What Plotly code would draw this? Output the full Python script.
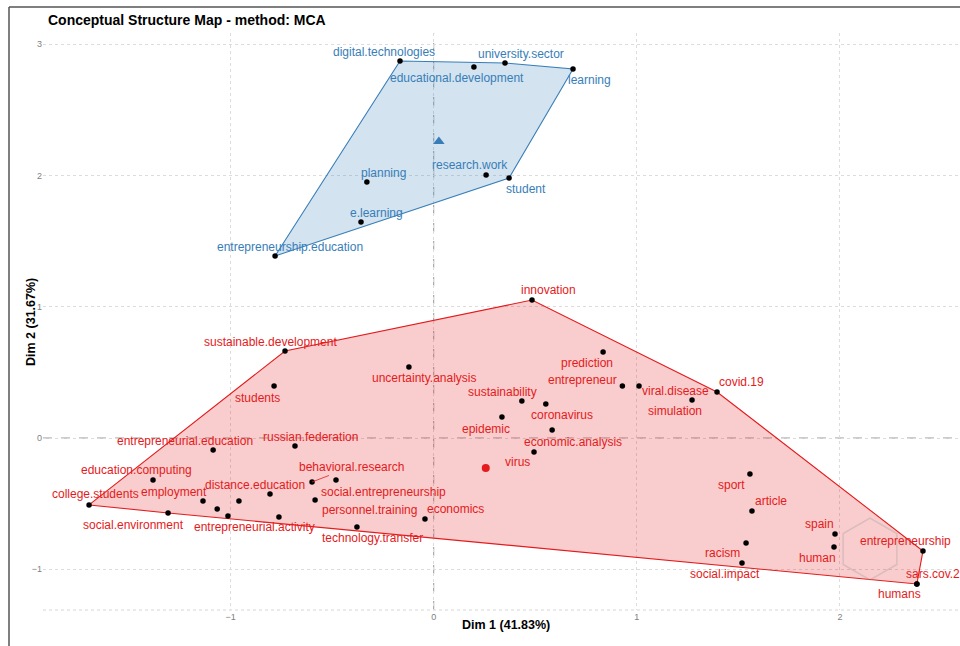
import math
import plotly.graph_objects as go

# ---- MCA word coordinates (Dim 1, Dim 2) by cluster ----
blue_words = [
    "digital.technologies", "educational.development", "university.sector",
    "learning", "research.work", "student", "planning", "e.learning",
    "entrepreneurship.education",
]
blue_dim1 = [-0.166, 0.198, 0.351, 0.686, 0.258, 0.371, -0.329, -0.358, -0.781]
blue_dim2 = [2.872, 2.827, 2.857, 2.811, 2.004, 1.981, 1.950, 1.646, 1.387]

red_words = [
    "sustainable.development", "students", "entrepreneurial.education",
    "russian.federation", "education.computing", "college.students",
    "employment", "social.environment", "distance.education",
    "entrepreneurial.activity", "behavioral.research", "social.entrepreneurship",
    "personnel.training", "economics", "technology.transfer", "innovation",
    "prediction", "uncertainty.analysis", "entrepreneur", "viral.disease",
    "covid.19", "simulation", "sustainability", "coronavirus", "epidemic",
    "economic.analysis", "virus", "sport", "article", "racism", "social.impact",
    "spain", "human", "entrepreneurship", "sars.cov.2", "humans",
]
red_dim1 = [
    -0.732, -0.786, -1.086, -0.683, -1.382, -1.697, -1.136, -1.308, -0.806,
    -1.013, -0.599, -0.481, -0.584, -0.043, -0.378, 0.484, 0.834, -0.122,
    0.929, 1.011, 1.395, 1.272, 0.434, 0.552, 0.336, 0.583, 0.494, 1.557,
    1.567, 1.538, 1.518, 1.976, 1.971, 2.409, 2.379, 2.379,
]
red_dim2 = [
    0.663, 0.396, -0.091, -0.061, -0.320, -0.510, -0.480, -0.571, -0.427,
    -0.594, -0.335, -0.320, -0.472, -0.617, -0.678, 1.051, 0.655, 0.541,
    0.396, 0.396, 0.350, 0.290, 0.282, 0.259, 0.160, 0.061, -0.107, -0.274,
    -0.556, -0.800, -0.952, -0.731, -0.830, -0.861, -1.112, -1.112,
]
# red-cluster words whose labels were dropped by the label repel step
red_hidden_dim1 = [-1.066, -0.959, -0.762]
red_hidden_dim2 = [-0.541, -0.480, -0.602]

x_ticks = [-1, 0, 1, 2]
y_ticks = [-1, 0, 1, 2, 3]

title_text = "Conceptual Structure Map - method: MCA"
x_title = "Dim 1 (41.83%)"
y_title = "Dim 2 (31.67%)"

RED = "#E41A1C"
BLUE = "#377EB8"
FONT = "Liberation Sans, Arial, sans-serif"
LABEL_SIZE = 12

# label placement relative to its point, in pixels (dx right, dy up)
label_offset = {
    "digital.technologies": (-16, 9), "educational.development": (-17, -11),
    "university.sector": (16, 9), "learning": (16, -11),
    "research.work": (-16, 10), "student": (17, -11), "planning": (17, 9),
    "e.learning": (16, 9), "entrepreneurship.education": (15, 9),
    "sustainable.development": (-15, 9), "students": (-17, -12),
    "entrepreneurial.education": (-28, 9), "russian.federation": (16, 9),
    "education.computing": (-17, 10), "college.students": (6, 11),
    "employment": (-29, 9), "social.environment": (-35, -12),
    "distance.education": (-15, 9), "entrepreneurial.activity": (27, -11),
    "behavioral.research": (39, 15), "social.entrepreneurship": (47, -12),
    "personnel.training": (54, -10), "economics": (31, 10),
    "technology.transfer": (16, -11), "innovation": (16, 10),
    "prediction": (-16, -11), "uncertainty.analysis": (16, -11),
    "entrepreneur": (-40, 6), "viral.disease": (36, -5), "covid.19": (24, 10),
    "simulation": (-17, -11), "sustainability": (-19, 9),
    "coronavirus": (16, -11), "epidemic": (-16, -12),
    "economic.analysis": (21, -12), "virus": (-17, -10), "sport": (-18, -11),
    "article": (19, 10), "racism": (-24, -10), "social.impact": (-17, -11),
    "spain": (-16, 10), "human": (-17, -11), "entrepreneurship": (-17, 10),
    "sars.cov.2": (16, 10), "humans": (-17, -10),
}
# labels pushed far enough to get a connecting segment
segment_labels = {"behavioral.research"}


def convex_hull(xs, ys):
    pts = sorted(set(zip(xs, ys)))
    if len(pts) < 3:
        return pts

    def cross(o, a, b):
        return (a[0] - o[0]) * (b[1] - o[1]) - (a[1] - o[1]) * (b[0] - o[0])

    lower, upper = [], []
    for p in pts:
        while len(lower) >= 2 and cross(lower[-2], lower[-1], p) <= 0:
            lower.pop()
        lower.append(p)
    for p in reversed(pts):
        while len(upper) >= 2 and cross(upper[-2], upper[-1], p) <= 0:
            upper.pop()
        upper.append(p)
    return lower[:-1] + upper[:-1]


def hull_trace(xs, ys, color, fill):
    hull = convex_hull(xs, ys)
    hx = [p[0] for p in hull] + [hull[0][0]]
    hy = [p[1] for p in hull] + [hull[0][1]]
    return go.Scatter(x=hx, y=hy, mode="lines", fill="toself",
                      fillcolor=fill, line=dict(color=color, width=1.1),
                      hoverinfo="skip", showlegend=False)


red_all_x = red_dim1 + red_hidden_dim1
red_all_y = red_dim2 + red_hidden_dim2

fig = go.Figure()
fig.add_trace(hull_trace(red_all_x, red_all_y, RED, "rgba(228,26,28,0.22)"))
fig.add_trace(hull_trace(blue_dim1, blue_dim2, BLUE, "rgba(55,126,184,0.22)"))

# word points
fig.add_trace(go.Scatter(x=red_all_x, y=red_all_y, mode="markers",
                         marker=dict(color="black", size=5.5),
                         text=red_words + [""] * len(red_hidden_dim1),
                         showlegend=False))
fig.add_trace(go.Scatter(x=blue_dim1, y=blue_dim2, mode="markers",
                         marker=dict(color="black", size=5.5),
                         text=blue_words, showlegend=False))

# cluster centroids
red_cx = sum(red_all_x) / len(red_all_x)
red_cy = sum(red_all_y) / len(red_all_y)
blue_cx = sum(blue_dim1) / len(blue_dim1)
blue_cy = sum(blue_dim2) / len(blue_dim2)
fig.add_trace(go.Scatter(x=[red_cx], y=[red_cy], mode="markers",
                         marker=dict(color=RED, size=8, symbol="circle"),
                         showlegend=False))
fig.add_trace(go.Scatter(x=[blue_cx], y=[blue_cy], mode="markers",
                         marker=dict(color=BLUE, size=10, symbol="triangle-up"),
                         showlegend=False))

annotations = []
for words, xs, ys, col in ((red_words, red_dim1, red_dim2, RED),
                           (blue_words, blue_dim1, blue_dim2, BLUE)):
    for w, x, y in zip(words, xs, ys):
        dx, dy = label_offset.get(w, (0, 10))
        if w in segment_labels:
            annotations.append(dict(
                x=x, y=y, xref="x", yref="y", text=w, showarrow=True,
                ax=dx, ay=-dy, arrowhead=0, arrowwidth=0.8, arrowcolor=col,
                font=dict(family=FONT, size=LABEL_SIZE, color=col)))
        else:
            annotations.append(dict(
                x=x, y=y, xref="x", yref="y", text=w, showarrow=False,
                xshift=dx, yshift=dy,
                font=dict(family=FONT, size=LABEL_SIZE, color=col)))

# ---- page geometry ----
W, H = 960, 646
ML, MR, MT, MB = 43, 2, 33, 36
PW, PH = W - ML - MR, H - MT - MB


def px(xp):
    return (xp - ML) / PW


def py(yp):
    return (H - MB - yp) / PH


annotations.append(dict(text=f"<b>{x_title}</b>", xref="paper", yref="paper",
                        x=px(506), y=py(634), showarrow=False,
                        font=dict(family=FONT, size=12.5, color="black")))
annotations.append(dict(text=f"<b>{y_title}</b>", xref="paper", yref="paper",
                        x=px(22), y=py(322), showarrow=False, textangle=-90,
                        font=dict(family=FONT, size=12.5, color="black")))

x_range = [-1.9237, 2.5815]
y_range = [-1.3105, 3.0857]

shapes = [
    # dashed reference lines through the origin
    dict(type="line", xref="x", yref="paper", x0=0, x1=0, y0=0, y1=1,
         line=dict(color="rgba(110,110,110,0.7)", width=1, dash="dash"),
         layer="below"),
    dict(type="line", xref="paper", yref="y", x0=0, x1=1, y0=0, y1=0,
         line=dict(color="rgba(110,110,110,0.7)", width=1, dash="dash"),
         layer="below"),
    # lower panel edge
    dict(type="line", xref="paper", yref="paper", x0=0, x1=1, y0=0, y1=0,
         line=dict(color="#d6d6d6", width=1, dash="dot"), layer="below"),
    # outer frame
    dict(type="line", xref="paper", yref="paper", x0=px(9), x1=px(960),
         y0=py(7), y1=py(7), line=dict(color="#555555", width=1.5)),
    dict(type="line", xref="paper", yref="paper", x0=px(9), x1=px(9),
         y0=py(7), y1=py(646), line=dict(color="#555555", width=1.5)),
]

# faint hexagonal logo mark
hx0, hy0, hr = 870, 549, 31
hex_pts = [(hx0 + hr * math.cos(math.radians(90 + 60 * k)),
            hy0 - hr * math.sin(math.radians(90 + 60 * k))) for k in range(6)]
path = "M " + " L ".join(f"{px(a):.4f},{py(b):.4f}" for a, b in hex_pts) + " Z"
shapes.append(dict(type="path", xref="paper", yref="paper", path=path,
                   line=dict(color="rgba(150,150,150,0.3)", width=1.5)))

fig.update_layout(
    width=W, height=H,
    margin=dict(l=ML, r=MR, t=MT, b=MB, pad=0),
    paper_bgcolor="white", plot_bgcolor="white",
    title=dict(text=f"<b>{title_text}</b>", x=48 / W, xanchor="left",
               y=1 - 20 / H, yanchor="middle", yref="container",
               font=dict(family=FONT, size=14, color="black")),
    xaxis=dict(range=x_range, tickvals=x_ticks, showgrid=True,
               gridcolor="#dcdcdc", griddash="dot", gridwidth=1,
               zeroline=False, showline=False, ticks="",
               tickfont=dict(family=FONT, size=9, color="#7f7f7f")),
    yaxis=dict(range=y_range, tickvals=y_ticks, showgrid=True,
               gridcolor="#dcdcdc", griddash="dot", gridwidth=1,
               zeroline=False, showline=False, ticks="",
               tickfont=dict(family=FONT, size=9, color="#7f7f7f")),
    annotations=annotations,
    shapes=shapes,
    showlegend=False,
)

fig.write_html("out.html")
